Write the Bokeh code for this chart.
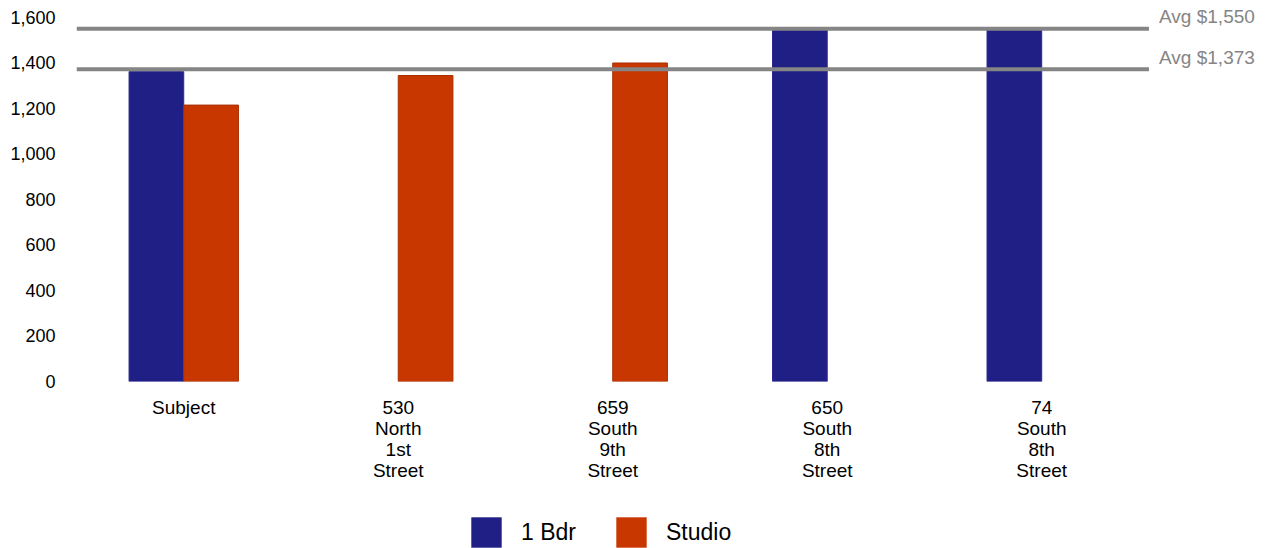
from bokeh.plotting import figure
from bokeh.layouts import column
from bokeh.models import (ColumnDataSource, Range1d, Label, Legend, LegendItem,
                          NumeralTickFormatter, FixedTicker)
from bokeh.transform import dodge
from bokeh.embed import file_html
from bokeh.resources import INLINE

# Rent comparison: monthly rent by property and unit type
properties = ["Subject", "530\nNorth\n1st\nStreet", "659\nSouth\n9th\nStreet",
              "650\nSouth\n8th\nStreet", "74\nSouth\n8th\nStreet"]
one_bdr = [1362, float("nan"), float("nan"), 1550, 1550]
studio = [1215, 1345, 1400, float("nan"), float("nan")]
avg_values = [1550, 1373]
y_ticks = [0, 200, 400, 600, 800, 1000, 1200, 1400, 1600]

BLUE = "#1f1f85"
ORANGE = "#c83700"
GRAY = "#858585"
FONT = "Liberation Sans"

n = len(properties)
x_pos = [i + 0.5 for i in range(n)]
source = ColumnDataSource(data=dict(x=x_pos, one_bdr=one_bdr, studio=studio))

# main chart: the frame runs to the right and top edges so the average labels fit inside it
p = figure(x_range=Range1d(0, 5.548), y_range=Range1d(0, 1674.7),
           width=1266, height=500, output_backend="svg", toolbar_location=None,
           min_border_left=76, min_border_right=0, min_border_top=0,
           min_border_bottom=119)
p.outline_line_color = None
p.xgrid.visible = False
p.ygrid.visible = False

BAR_W = 0.255
p.vbar(x=dodge("x", -BAR_W / 2), top="one_bdr", width=BAR_W, source=source,
       fill_color=BLUE, line_color="#2a2a8f", line_width=1)
p.vbar(x=dodge("x", BAR_W / 2), top="studio", width=BAR_W, source=source,
       fill_color=ORANGE, line_color="#a83000", line_width=1)

# average reference lines across the category area, labelled at the right
for v in avg_values:
    p.segment(x0=0, x1=n, y0=v, y1=v, line_color=GRAY, line_width=4)
    p.add_layout(Label(x=n + 0.047, y=v, y_offset=12, text=f"Avg ${v:,}",
                       text_color=GRAY, text_font=FONT, text_font_size="19px",
                       text_baseline="middle", text_align="left"))

p.yaxis.ticker = FixedTicker(ticks=y_ticks)
p.yaxis.formatter = NumeralTickFormatter(format="0,0")
p.yaxis.axis_line_color = None
p.yaxis.major_tick_line_color = None
p.yaxis.major_tick_out = 0
p.yaxis.minor_tick_line_color = None
p.yaxis.major_label_standoff = 21
p.yaxis.major_label_text_font = FONT
p.yaxis.major_label_text_font_size = "18px"
p.yaxis.major_label_text_color = "black"

p.xaxis.ticker = FixedTicker(ticks=x_pos)
p.xaxis.major_label_overrides = {x: name for x, name in zip(x_pos, properties)}
p.xaxis.axis_line_color = None
p.xaxis.major_tick_line_color = None
p.xaxis.major_tick_out = 0
p.xaxis.minor_tick_line_color = None
p.xaxis.major_label_standoff = 15
p.xaxis.major_label_text_font = FONT
p.xaxis.major_label_text_font_size = "19px"
p.xaxis.major_label_text_color = "black"
p.xaxis.major_label_text_line_height = 1.0

# legend strip underneath the chart; its key bars have zero size, only their
# colours are used for the legend swatches
lg = figure(x_range=Range1d(0, 1), y_range=Range1d(0, 1), width=1266, height=48,
            output_backend="svg", toolbar_location=None, min_border=0)
lg.axis.visible = False
lg.grid.visible = False
lg.outline_line_color = None
keys = ColumnDataSource(data=dict(x=[0.5], bottom=[0.5], top=[0.5]))
k1 = lg.vbar(x="x", bottom="bottom", top="top", width=0, source=keys,
             fill_color=BLUE, line_color=None)
k2 = lg.vbar(x="x", bottom="bottom", top="top", width=0, source=keys,
             fill_color=ORANGE, line_color=None)
legend = Legend(items=[LegendItem(label="1 Bdr", renderers=[k1]),
                       LegendItem(label="Studio", renderers=[k2])],
                orientation="horizontal", location=(391, -3),
                glyph_width=38, glyph_height=38, label_standoff=16, spacing=36,
                padding=0, margin=0, border_line_color=None,
                background_fill_alpha=0, label_text_font=FONT,
                label_text_font_size="23px", label_text_color="black")
lg.add_layout(legend, "center")

layout = column(p, lg, spacing=0)
open("out.html", "w").write(file_html(layout, INLINE))
